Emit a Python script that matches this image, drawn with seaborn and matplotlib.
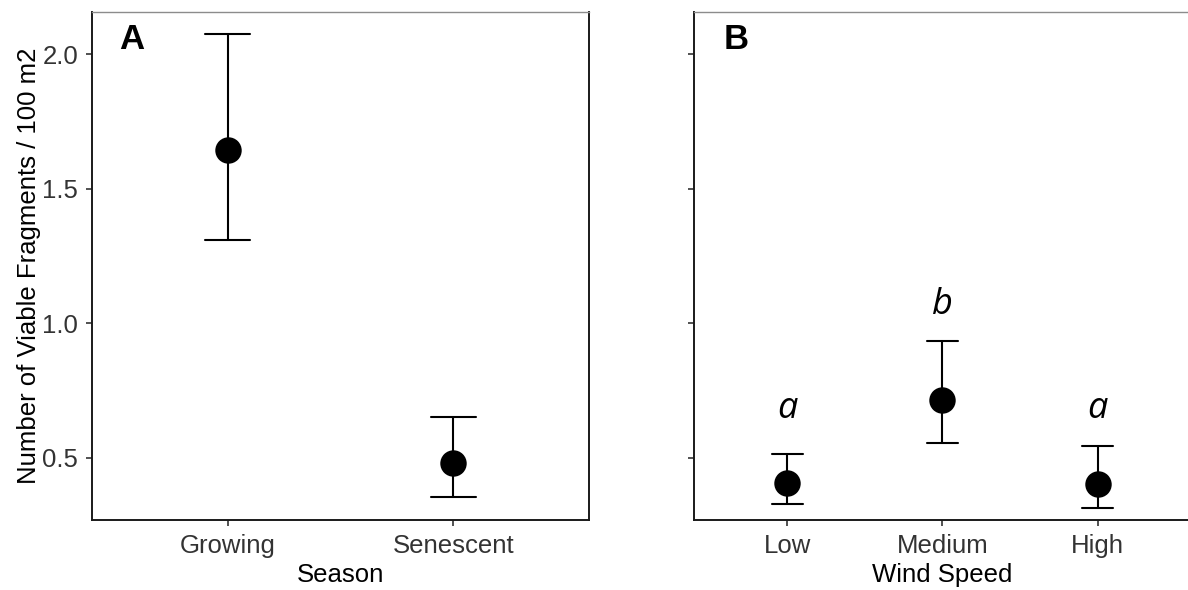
import matplotlib
matplotlib.use("Agg")
import matplotlib.pyplot as plt
import seaborn as sns
import pandas as pd

# ---- data ----
season_cats = ["Growing", "Senescent"]
season_mean = [1.645, 0.480]
season_lower = [1.309, 0.356]
season_upper = [2.075, 0.651]

wind_cats = ["Low", "Medium", "High"]
wind_mean = [0.406, 0.716, 0.403]
wind_lower = [0.329, 0.555, 0.315]
wind_upper = [0.515, 0.936, 0.546]
wind_letters = ["a", "b", "a"]
wind_letter_y = [0.649, 1.036, 0.649]

ylabel = "Number of Viable Fragments / 100 m2"

sns.set_theme(style="white")
plt.rcParams["font.family"] = ["Liberation Sans", "DejaVu Sans"]
plt.rcParams["text.color"] = "black"


def long_frame(cats, lo, mid, hi, name):
    rows = []
    for c, a, m, b in zip(cats, lo, mid, hi):
        for v in (a, m, b):
            rows.append({name: c, "value": v})
    return pd.DataFrame(rows)


dfA = long_frame(season_cats, season_lower, season_mean, season_upper, "Season")
dfB = long_frame(wind_cats, wind_lower, wind_mean, wind_upper, "Wind Speed")

W, H = 1188, 590
fig = plt.figure(figsize=(W / 100, H / 100), dpi=100)
fig.patch.set_facecolor("white")

top_px, bot_px = 12, 520
axA = fig.add_axes([92 / W, (H - bot_px) / H, (589 - 92) / W, (bot_px - top_px) / H])
axB = fig.add_axes([694 / W, (H - bot_px) / H, (1191 - 694) / W, (bot_px - top_px) / H],
                   sharey=axA)

common = dict(y="value", estimator="median",
              errorbar=lambda v: (v.min(), v.max()),
              color="black", linestyle="none", marker="o", markersize=17,
              capsize=0.2, err_kws={"linewidth": 1.5, "color": "black"})

sns.pointplot(data=dfA, x="Season", order=season_cats, ax=axA, **common)
sns.pointplot(data=dfB, x="Wind Speed", order=wind_cats, ax=axB, **common)

axA.set_xlim(-0.6, len(season_cats) - 1 + 0.6)
axB.set_xlim(-0.6, len(wind_cats) - 1 + 0.6)
axA.set_ylim(0.269, 2.158)
axA.set_yticks([0.5, 1.0, 1.5, 2.0])
axA.set_yticklabels(["0.5", "1.0", "1.5", "2.0"])

for ax in (axA, axB):
    ax.set_facecolor("white")
    ax.grid(False)
    for side in ("left", "bottom", "right"):
        ax.spines[side].set_color("#1a1a1a")
        ax.spines[side].set_linewidth(1.4)
    ax.spines["top"].set_color("#8c8c8c")
    ax.spines["top"].set_linewidth(1.0)
    ax.tick_params(axis="both", which="both", length=4, width=1.2, color="#333333",
                   labelsize=18.5, labelcolor="#333333", pad=6,
                   left=True, bottom=True)
    ax.xaxis.label.set_size(18.5)
    ax.xaxis.label.set_color("black")

axB.spines["right"].set_visible(False)

axA.set_ylabel(ylabel, fontsize=18.5, color="black", labelpad=1)
axB.set_ylabel("")
axB.tick_params(axis="y", labelleft=False)
axA.set_xlabel("Season", labelpad=4)
axB.set_xlabel("Wind Speed", labelpad=4)

axA.text(0.054, 0.927, "A", transform=axA.transAxes, fontsize=25,
         fontweight="bold", color="black", ha="left", va="baseline")
axB.text(0.060, 0.927, "B", transform=axB.transAxes, fontsize=25,
         fontweight="bold", color="black", ha="left", va="baseline")

for i, (lab, yv) in enumerate(zip(wind_letters, wind_letter_y)):
    axB.text(i, yv, lab, fontsize=26, fontstyle="italic", color="black",
             family=["Open Sans", "DejaVu Sans"], ha="center", va="baseline")

fig.savefig("out.png", dpi=100, facecolor="white")
